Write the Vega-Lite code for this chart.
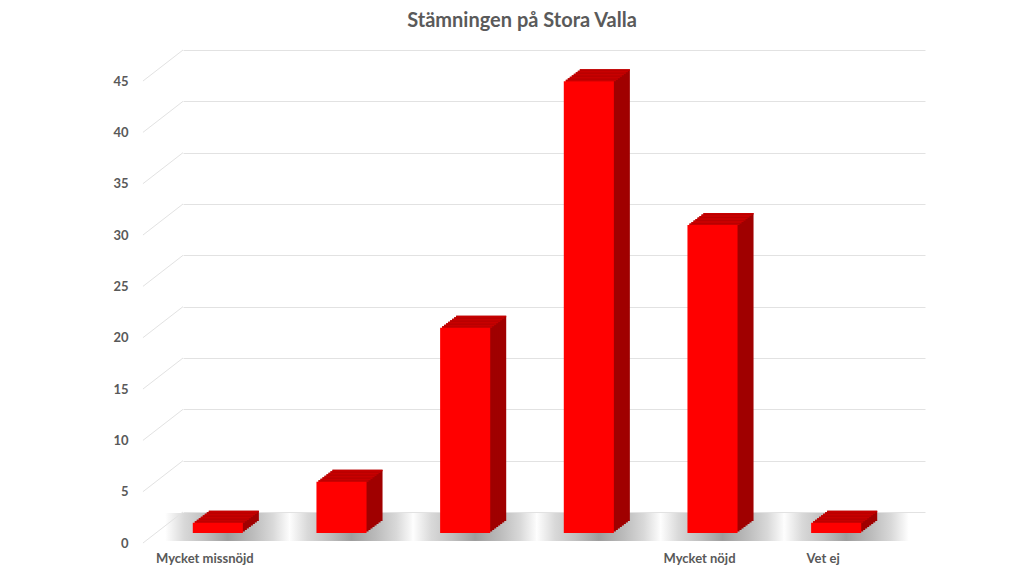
{
  "$schema": "https://vega.github.io/schema/vega-lite/v6.json",
  "width": 742,
  "height": 462,
  "autosize": "none",
  "padding": {"left": 183, "top": 50, "right": 99, "bottom": 64},
  "background": "white",
  "title": {"text": "Stämningen på Stora Valla", "font": "Lato", "fontSize": 20, "fontWeight": "bold", "color": "#5a5a5a", "anchor": "middle", "dx": -32, "offset": 19},
  "config": {"view": {"stroke": null}},
  "datasets": {
    "bars": [
      {"cat": "Mycket missnöjd", "value": 1},
      {"cat": "2", "value": 5},
      {"cat": "3", "value": 20},
      {"cat": "4", "value": 44},
      {"cat": "Mycket nöjd", "value": 30},
      {"cat": "Vet ej", "value": 1}
    ],
    "grid": [{"value": 0}, {"value": 5}, {"value": 10}, {"value": 15}, {"value": 20}, {"value": 25}, {"value": 30}, {"value": 35}, {"value": 40}, {"value": 45}]
  },
  "data": {"name": "bars"},
  "encoding": {
    "x": {"field": "cat", "type": "nominal", "sort": null, "title": null,
      "scale": {"paddingInner": 0.595, "paddingOuter": 0.2975},
      "axis": {"domain": false, "ticks": false, "labelAngle": 0, "labelFont": "Lato", "labelFontWeight": "bold", "labelFontSize": 13, "labelColor": "#595959", "labelPadding": 40, "labelOffset": -40,
        "labelExpr": "indexof(['2','3','4'], datum.label) >= 0 ? '' : datum.label"}},
    "y": {"field": "value", "type": "quantitative", "title": null,
      "scale": {"domain": [0, 45], "nice": false},
      "axis": {"domain": false, "ticks": false, "grid": true, "gridColor": "#e2e2e2", "gridWidth": 1, "values": [0, 5, 10, 15, 20, 25, 30, 35, 40, 45], "labelFont": "Lato", "labelFontWeight": "bold", "labelFontSize": 13, "labelColor": "#595959", "labelPadding": 55, "labelOffset": 31}}
  },
  "layer": [
    {
      "mark": {"type": "bar", "width": {"band": 2.5}, "xOffset": -17, "yOffset": 1, "y2Offset": 29, "opacity": 0.85,
        "color": {"gradient": "linear", "x1": 0, "x2": 1, "y1": 0, "y2": 0,
          "stops": [{"offset": 0, "color": "#ffffff"}, {"offset": 0.15, "color": "#d2d2d2"}, {"offset": 0.32, "color": "#b4b4b4"}, {"offset": 0.5, "color": "#8c8c8c"}, {"offset": 0.7, "color": "#b0b0b0"}, {"offset": 0.86, "color": "#d2d2d2"}, {"offset": 1, "color": "#ffffff"}]}},
      "encoding": {"y": {"datum": 0}, "y2": {"datum": 0}}
    },
    {
      "data": {"name": "grid"},
      "mark": {"type": "rule", "color": "#e2e2e2", "strokeWidth": 1, "xOffset": -76.8, "x2Offset": -36.8, "yOffset": 31, "y2Offset": 0},
      "encoding": {
        "x": {"datum": "Mycket missnöjd", "bandPosition": 0},
        "x2": {"datum": "Mycket missnöjd", "bandPosition": 0},
        "y2": {"field": "value"}
      }
    },
    {"mark": {"type": "bar", "color": "#a00000", "xOffset": -11, "yOffset": 9, "y2Offset": 9}, "encoding": {"y2": {"datum": 0}}},
    {"mark": {"type": "bar", "color": "#c80000", "xOffset": -11, "yOffset": 9, "y2Offset": 10.6}, "encoding": {"y2": {"field": "value"}}},
    {"mark": {"type": "bar", "color": "#a00000", "xOffset": -13, "yOffset": 10.5, "y2Offset": 10.5}, "encoding": {"y2": {"datum": 0}}},
    {"mark": {"type": "bar", "color": "#c80000", "xOffset": -13, "yOffset": 10.5, "y2Offset": 12.1}, "encoding": {"y2": {"field": "value"}}},
    {"mark": {"type": "bar", "color": "#a00000", "xOffset": -15, "yOffset": 12, "y2Offset": 12}, "encoding": {"y2": {"datum": 0}}},
    {"mark": {"type": "bar", "color": "#c80000", "xOffset": -15, "yOffset": 12, "y2Offset": 13.6}, "encoding": {"y2": {"field": "value"}}},
    {"mark": {"type": "bar", "color": "#a00000", "xOffset": -17, "yOffset": 13.5, "y2Offset": 13.5}, "encoding": {"y2": {"datum": 0}}},
    {"mark": {"type": "bar", "color": "#c80000", "xOffset": -17, "yOffset": 13.5, "y2Offset": 15.1}, "encoding": {"y2": {"field": "value"}}},
    {"mark": {"type": "bar", "color": "#a00000", "xOffset": -19, "yOffset": 15, "y2Offset": 15}, "encoding": {"y2": {"datum": 0}}},
    {"mark": {"type": "bar", "color": "#c80000", "xOffset": -19, "yOffset": 15, "y2Offset": 16.6}, "encoding": {"y2": {"field": "value"}}},
    {"mark": {"type": "bar", "color": "#a00000", "xOffset": -21, "yOffset": 16.5, "y2Offset": 16.5}, "encoding": {"y2": {"datum": 0}}},
    {"mark": {"type": "bar", "color": "#c80000", "xOffset": -21, "yOffset": 16.5, "y2Offset": 18.1}, "encoding": {"y2": {"field": "value"}}},
    {"mark": {"type": "bar", "color": "#a00000", "xOffset": -23, "yOffset": 18, "y2Offset": 18}, "encoding": {"y2": {"datum": 0}}},
    {"mark": {"type": "bar", "color": "#c80000", "xOffset": -23, "yOffset": 18, "y2Offset": 19.6}, "encoding": {"y2": {"field": "value"}}},
    {"mark": {"type": "bar", "color": "#a00000", "xOffset": -25, "yOffset": 19.5, "y2Offset": 19.5}, "encoding": {"y2": {"datum": 0}}},
    {"mark": {"type": "bar", "color": "#c80000", "xOffset": -25, "yOffset": 19.5, "y2Offset": 21.1}, "encoding": {"y2": {"field": "value"}}},
    {"mark": {"type": "bar", "color": "#ff0000", "xOffset": -27, "yOffset": 21, "y2Offset": 21}, "encoding": {"y2": {"datum": 0}}}
  ]
}
